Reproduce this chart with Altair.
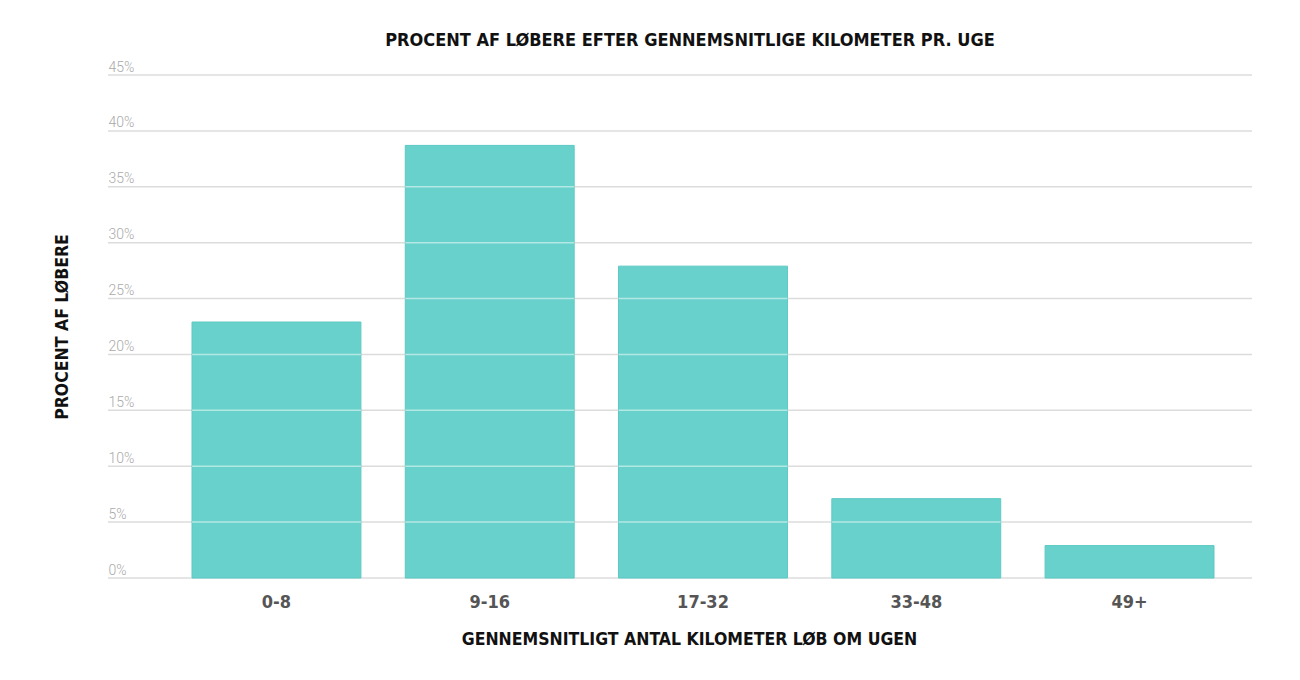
import altair as alt
import pandas as pd

categories = ["0-8", "9-16", "17-32", "33-48", "49+"]
values = [22.9, 38.7, 27.9, 7.1, 2.9]
y_ticks = [0, 5, 10, 15, 20, 25, 30, 35, 40, 45]

df = pd.DataFrame({"cat": categories, "pct": values})
grid_df = pd.DataFrame({"tick": y_ticks})
overlay = pd.DataFrame(
    [{"cat": c, "tick": t} for c, v in zip(categories, values) for t in y_ticks if 0 < t < v]
)

COND = "'Liberation Sans Narrow', 'DejaVu Sans Condensed', 'Roboto Condensed', 'Arial Narrow', sans-serif"

xscale = alt.Scale(domain=categories, range=[84, 1106], paddingInner=0.208, paddingOuter=0)
yscale = alt.Scale(domain=[0, 45], nice=False)

grid = alt.Chart(grid_df).mark_rule(color="#DCDCDC", strokeWidth=1.5).encode(
    y=alt.Y("tick:Q", scale=yscale),
    x=alt.value(0),
    x2=alt.value(1144),
)

bars = alt.Chart(df).mark_bar(color="#68D1CB", stroke="#5CC9C3", strokeWidth=1).encode(
    x=alt.X("cat:N", sort=categories, scale=xscale,
            axis=alt.Axis(title="GENNEMSNITLIGT ANTAL KILOMETER LØB OM UGEN",
                          labelFont=COND, labelFontSize=18, labelFontWeight="bold",
                          labelColor="#555555", labelAngle=0, labelPadding=15,
                          ticks=False, domain=False, grid=False,
                          titleFont=COND, titleFontSize=17.5, titleFontWeight="bold",
                          titleColor="#111111", titleX=581, titleY=61,
                          titleBaseline="middle", titleAlign="center")),
    y=alt.Y("pct:Q", scale=yscale,
            axis=alt.Axis(values=y_ticks, labelExpr="datum.value + '%'",
                          title="PROCENT AF LØBERE",
                          labelFont="Roboto", labelFontWeight=300, labelFontSize=14,
                          labelColor="#AAAAAA", labelAlign="left", labelBaseline="alphabetic",
                          labelPadding=0, labelOffset=-4,
                          ticks=False, domain=False, grid=False,
                          titleFont=COND, titleFontSize=17.5, titleFontWeight="bold",
                          titleColor="#111111", titleX=-46, titleY=251.5,
                          titleAngle=270, titleAlign="center", titleBaseline="middle")),
)

lines = alt.Chart(overlay).mark_tick(color="white", opacity=0.5, thickness=1.5, size=169).encode(
    x=alt.X("cat:N", sort=categories, scale=xscale),
    y=alt.Y("tick:Q", scale=yscale),
)

chart = alt.layer(grid, bars, lines).properties(
    width=1144,
    height=503,
    background="white",
    title=alt.TitleParams("PROCENT AF LØBERE EFTER GENNEMSNITLIGE KILOMETER PR. UGE",
                          font=COND, fontSize=18, fontWeight="bold", color="#111111",
                          anchor="middle", dx=10, offset=10),
    autosize="none",
    padding={"left": 100, "top": 67, "right": 40, "bottom": 95},
).configure_view(strokeWidth=0, stroke="transparent")

chart.save("out.html", embed_options={"renderer": "svg", "actions": False})
